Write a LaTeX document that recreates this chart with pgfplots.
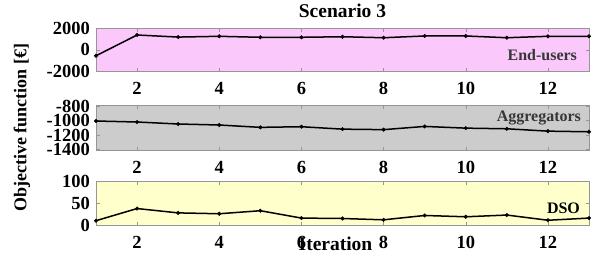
\documentclass[border=0pt]{standalone}
\usepackage{pgfplots}
\pgfplotsset{compat=1.18}
\usepackage{fontspec}
\setmainfont{Liberation Serif}
\definecolor{pinkbg}{RGB}{250,200,250}
\definecolor{graybg}{RGB}{204,204,204}
\definecolor{yellowbg}{RGB}{255,255,204}
\definecolor{boxgray}{RGB}{150,150,150}
\definecolor{annot}{RGB}{55,55,55}
\pgfplotsset{
  panel/.style={
    scale only axis,
    width=493pt,
    xmin=1, xmax=13,
    xtick={2,4,6,8,10,12},
    xticklabels={2,4,6,8,10,12},
    tick align=inside,
    major tick length=3.5pt,
    xtick pos=both, ytick pos=both,
    axis line style={boxgray, line width=0.6pt},
    tick style={boxgray, line width=0.5pt},
    xticklabel style={font=\fontsize{18.5}{19}\selectfont\bfseries, anchor=base, inner sep=0pt, yshift=-23pt},
    yticklabel style={font=\fontsize{18.5}{19}\selectfont\bfseries, anchor=east, inner sep=0pt, xshift=-6pt},
    clip=false,
  },
  series/.style={black, line width=1.5pt, mark=*, mark size=1.8pt, mark options={fill=black, draw=black, line width=0.4pt}},
}
\begin{document}
\begin{tikzpicture}
% ---- End-users ----
\begin{axis}[panel,
  at={(96pt,-28pt)}, anchor=north west,
  height=43.7pt,
  ymin=-2000, ymax=2000,
  ytick={-2000,0,2000}, yticklabels={-2000,0,2000},
  axis background/.style={fill=pinkbg},
  title={Scenario 3},
  title style={font=\fontsize{19.5}{20}\selectfont\bfseries, at={(0.5,1)}, anchor=base, inner sep=0pt, yshift=5pt},
]
\addplot[series] coordinates {(1,-540) (2,1360) (3,1170) (4,1240) (5,1150) (6,1150) (7,1200) (8,1110) (9,1270) (10,1270) (11,1110) (12,1240) (13,1240)};
\node[anchor=base east, inner sep=0pt, text=annot, font=\fontsize{16}{17}\selectfont\bfseries] at (rel axis cs:0.976,0.25) {End-users};
\end{axis}
% ---- Aggregators ----
\begin{axis}[panel,
  at={(96pt,-105pt)}, anchor=north west,
  height=45.7pt,
  ymin=-1420, ymax=-780,
  ytick={-1400,-1200,-1000,-800}, yticklabels={-1400,-1200,-1000,-800},
  axis background/.style={fill=graybg},
  ylabel={Objective function [€]},
  ylabel style={font=\fontsize{18}{19}\selectfont\bfseries, at={(axis description cs:-0.150,0.5)}, anchor=center, inner sep=0pt},
]
\addplot[series] coordinates {(1,-1004) (2,-1018) (3,-1046) (4,-1060) (5,-1093) (6,-1084) (7,-1118) (8,-1125) (9,-1080) (10,-1104) (11,-1113) (12,-1146) (13,-1155)};
\node[anchor=base east, inner sep=0pt, text=annot, font=\fontsize{16}{17}\selectfont\bfseries] at (rel axis cs:0.984,0.65) {Aggregators};
\end{axis}
% ---- DSO ----
\begin{axis}[panel,
  at={(96pt,-181.7pt)}, anchor=north west,
  height=43.3pt,
  ymin=0, ymax=100,
  ytick={0,50,100}, yticklabels={0,50,100},
  axis background/.style={fill=yellowbg},
  xlabel={Iteration},
  xlabel style={font=\fontsize{19.5}{20}\selectfont\bfseries, at={(0.5,0)}, anchor=base, inner sep=0pt, yshift=-25pt, xshift=-7pt},
]
\addplot[series] coordinates {(1,10) (2,38) (3,28) (4,26) (5,33) (6,16) (7,15) (8,12) (9,22) (10,19) (11,23) (12,11) (13,16)};
\node[anchor=base east, inner sep=0pt, text=black, font=\fontsize{16}{17}\selectfont\bfseries] at (rel axis cs:0.982,0.27) {DSO};
\end{axis}
\pgfresetboundingbox
\path (0pt,0pt) rectangle (597pt,-258pt);
\end{tikzpicture}
\end{document}
